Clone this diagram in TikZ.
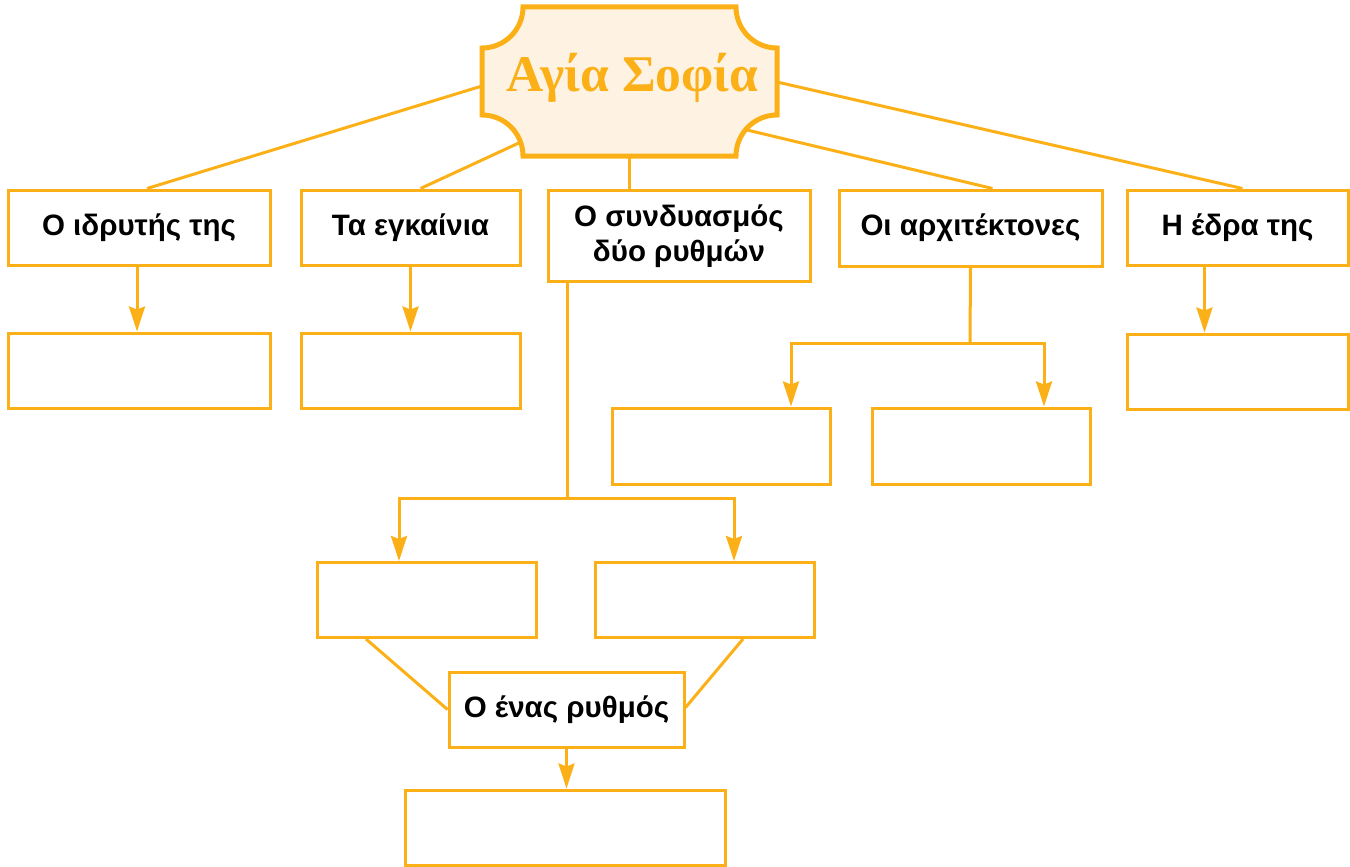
\documentclass[tikz,border=0pt]{standalone}
\usepackage{fontspec}
\setmainfont{Liberation Serif}
\newfontfamily\boxfont{Liberation Sans}
\usetikzlibrary{arrows.meta}
\definecolor{orng}{RGB}{252,176,23}
\definecolor{cream}{RGB}{254,243,226}
\begin{document}
\begin{tikzpicture}[x=1pt,y=-1pt,
  box/.style={draw=orng,line width=3pt,rectangle,inner sep=0pt,align=center,
    font=\boxfont\bfseries\fontsize{29.5}{35}\selectfont},
  conn/.style={draw=orng,line width=3pt},
  arr/.style={conn,-{Stealth[length=25pt,width=16pt,inset=3pt]}}]
\useasboundingbox (0,0) rectangle (1350,867);
% title
\draw[draw=orng,fill=cream,line width=5pt]
  (523,7) -- (736,7) arc[start angle=180,end angle=90,radius=41]
  -- (777,115) arc[start angle=270,end angle=180,radius=41]
  -- (523,156) arc[start angle=360,end angle=270,radius=41]
  -- (482,48) arc[start angle=90,end angle=0,radius=41] -- cycle;
\node[inner sep=0pt,anchor=base,text=orng,font=\bfseries\fontsize{51.5}{60}\selectfont] (t) at (632.5,92) {Αγία Σοφία};
\coordinate (tl) at (482,86);
\coordinate (tll) at (521,142);
\coordinate (tb) at (629,156);
\coordinate (tlr) at (747,130);
\coordinate (tr) at (777,82);
% boxes
\node[box,minimum width=262,minimum height=75] (b1) at (139,227.5) {Ο ιδρυτής της};
\node[box,minimum width=262,minimum height=75] (b1e) at (139,370.5) {};
\node[box,minimum width=219,minimum height=75] (b2) at (410.5,227.5) {Τα εγκαίνια};
\node[box,minimum width=219,minimum height=75] (b2e) at (410.5,370.5) {};
\node[box,minimum width=262,minimum height=91] (b3) at (679,236) {Ο συνδυασμός\\δύο ρυθμών};
\node[box,minimum width=263,minimum height=76] (b4) at (970.5,228) {Οι αρχιτέκτονες};
\node[box,minimum width=218,minimum height=76] (b4a) at (721,446) {};
\node[box,minimum width=218,minimum height=76] (b4b) at (981,446) {};
\node[box,minimum width=221,minimum height=75] (b5) at (1237.5,227.5) {Η έδρα της};
\node[box,minimum width=221,minimum height=75] (b5e) at (1237.5,371.5) {};
\node[box,minimum width=219,minimum height=75] (c1) at (427,600) {};
\node[box,minimum width=219,minimum height=75] (c2) at (704.5,600) {};
\node[box,minimum width=235,minimum height=75] (d) at (566.5,709.5) {Ο ένας ρυθμός};
\node[box,minimum width=320,minimum height=75] (e) at (565,827.5) {};
% connectors to title
\draw[conn] ([xshift=8]b1.north) -- (tl);
\draw[conn] ([xshift=10]b2.north) -- (tll);
\draw[conn] ([xshift=-50]b3.north) -- (tb);
\draw[conn] ([xshift=22]b4.north) -- (tlr);
\draw[conn] ([xshift=5]b5.north) -- (tr);
% arrows
\draw[arr] ([xshift=-2]b1.south) -- ([xshift=-2]b1e.north);
\draw[arr] (b2.south) -- (b2e.north);
\draw[arr] ([xshift=-33]b5.south) -- ([xshift=-33]b5e.north);
\coordinate (s3) at ([xshift=-112]b3.south);
\coordinate (j3) at (567,498);
\draw[conn] (s3) -- (j3);
\draw[arr] (j3) -| ([xshift=-28]c1.north);
\draw[arr] (j3) -| ([xshift=29.5]c2.north);
\coordinate (j4) at (970,343);
\draw[conn] (b4.south) -- (j4);
\draw[arr] (j4) -| ([xshift=70]b4a.north);
\draw[arr] (j4) -| ([xshift=63]b4b.north);
\draw[conn] ([xshift=-61]c1.south) -- (d.west);
\draw[conn] ([xshift=38.5]c2.south) -- ([yshift=2]d.east);
\draw[arr] (d.south) -- (d.south |- e.north);
\end{tikzpicture}
\end{document}
